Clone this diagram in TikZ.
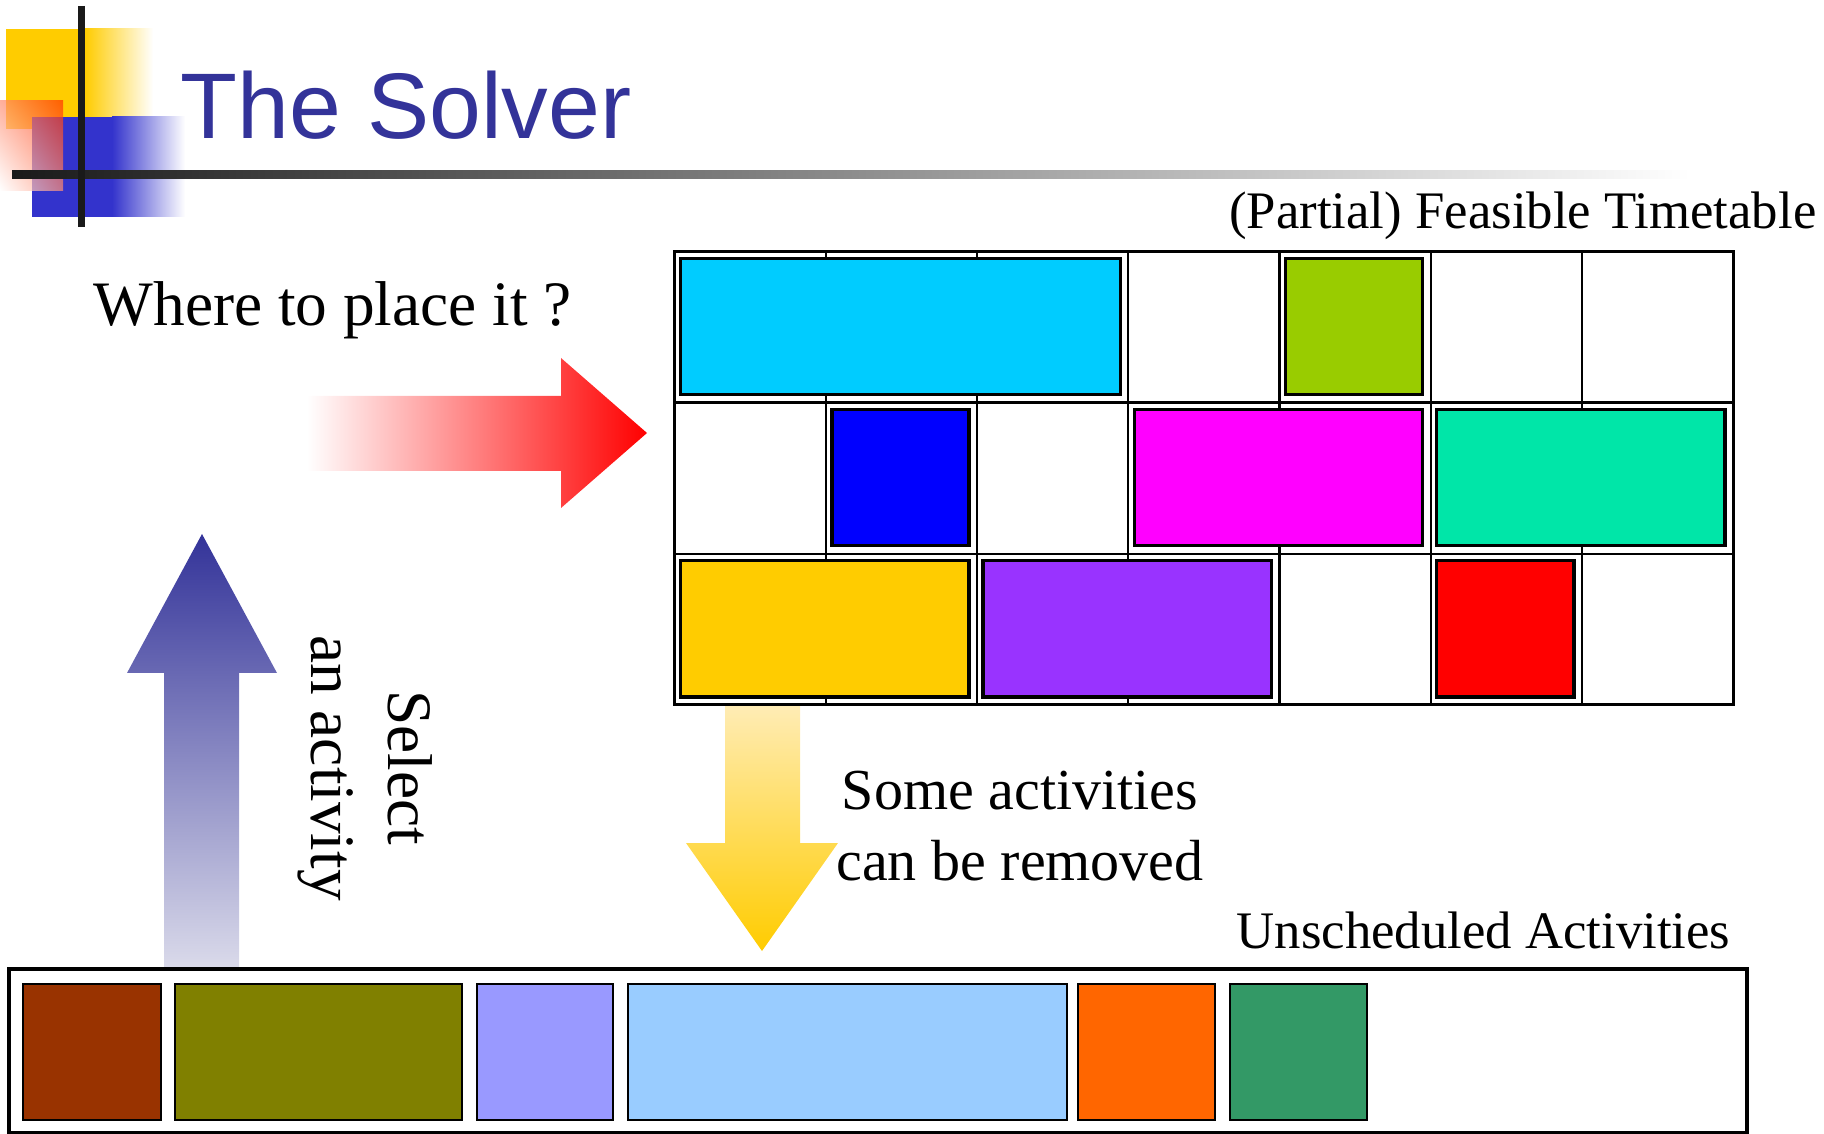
\documentclass[tikz,border=0pt]{standalone}
\usepackage{fontspec}
\setmainfont{Liberation Serif}
\newfontfamily\titlefont{Liberation Sans}
\usepackage{xcolor}
\usetikzlibrary{shadings}
\definecolor{logoyellow}{HTML}{FFCC00}
\definecolor{logoblue}{HTML}{3333CC}
\definecolor{logored}{HTML}{FF3300}
\definecolor{logoblack}{HTML}{1A1A1A}
\definecolor{titleblue}{HTML}{333399}
\definecolor{tcyan}{HTML}{00CCFF}
\definecolor{tlime}{HTML}{99CC00}
\definecolor{tblue}{HTML}{0000FF}
\definecolor{tmagenta}{HTML}{FF00FF}
\definecolor{tteal}{RGB}{0,230,168}
\definecolor{tgold}{HTML}{FFCC00}
\definecolor{tpurple}{HTML}{9933FF}
\definecolor{tred}{HTML}{FF0000}
\definecolor{ubrown}{HTML}{993300}
\definecolor{uolive}{HTML}{808000}
\definecolor{ulavender}{HTML}{9999FF}
\definecolor{usky}{HTML}{99CCFF}
\definecolor{uorange}{HTML}{FF6600}
\definecolor{ugreen}{HTML}{339966}
\definecolor{selblue}{HTML}{333399}
\definecolor{selpale}{RGB}{218,218,234}
\definecolor{rmpale}{RGB}{255,236,180}

\begin{document}
\begin{tikzpicture}[x=0.01cm,y=-0.01cm,line join=miter,
  activity/.style={draw=black,line width=1pt},
  slot/.style={draw=black,line width=0.6pt},
  label/.style={inner sep=0pt,text=black}]
  \useasboundingbox (0,0) rectangle (1824,1134);
  % logo
  \fill[logoyellow] (6,29) rectangle (85,129);
  \shade[left color=logoyellow,right color=white] (85,29) rectangle (153,129);
  \fill[logoblue] (32,117) rectangle (112,217);
  \shade[left color=logoblue,right color=white] (112,117) rectangle (185,217);
  \shade[fill opacity=0.7,upper right=logored,lower left=white,
    upper left=logored!55!white,lower right=logored!55!white] (0,101) rectangle (63,191);
  \shade[left color=logoblack,middle color=black!35,right color=white] (12,171) rectangle (1690,179);
  \draw[line width=2pt,logoblack] (81.5,6) -- (81.5,227);
  \node[label,anchor=base west,text=titleblue,font=\titlefont\fontsize{26.5}{30}\selectfont] (title) at (180,139) {The Solver};

  % arrows
  \shade[left color=white,right color=red] (307,396) -- (561,396) -- (561,358) -- (647,433)
    -- (561,508) -- (561,471) -- (307,471) -- cycle;
  \shade[top color=selblue,bottom color=selpale] (164,968) -- (164,673) -- (127,673) -- (202,534)
    -- (277,673) -- (239,673) -- (239,968) -- cycle;
  \shade[top color=rmpale,bottom color=tgold] (725,706) -- (800,706) -- (800,843) -- (838,843)
    -- (762,951) -- (686,843) -- (725,843) -- cycle;

  % timetable
  \begin{scope}[shift={(674.7,251.3)}]
    \foreach \i in {1,...,6}
      \draw[slot] (\i*151.2,0) -- (\i*151.2,453.6);
    \foreach \j in {1,2}
      \draw[slot] (0,\j*151.2) -- (1058.4,\j*151.2);
    \draw[slot,line width=0.85pt] (0,0) rectangle (1058.4,453.6);
    \foreach \a/\b/\r/\c in {0/3/0/tcyan,4/5/0/tlime,1/2/1/tblue,3/5/1/tmagenta,
        5/7/1/tteal,0/2/2/tgold,2/4/2/tpurple,5/6/2/tred}
      \filldraw[activity,fill=\c] (\a*151.2+6,\r*151.2+7) rectangle (\b*151.2-8,\r*151.2+143.2);
  \end{scope}

  % unscheduled
  \draw[line width=0.9pt] (9,969) rectangle (1747,1133);
  \foreach \a/\b/\c in {23/161/ubrown,175/462/uolive,477/613/ulavender,
      628/1067/usky,1078/1215/uorange,1230/1367/ugreen}
    \filldraw[activity,line width=0.8pt,fill=\c] (\a,984) rectangle (\b,1120);

  % texts
  \node[label,anchor=base east,font=\fontsize{15}{18}\selectfont] (timetable) at (1817,229) {(Partial) Feasible Timetable};
  \node[label,anchor=base west,font=\fontsize{18}{22}\selectfont] (question) at (93,326) {Where to place it ?};
  \node[label,align=center,font=\fontsize{16.5}{20}\selectfont] (removed) at (1020,826) {Some activities\\can be removed};
  \node[label,anchor=base east,font=\fontsize{15}{18}\selectfont] (unscheduled) at (1731,948) {Unscheduled Activities};
  \node[label,align=center,rotate=-90,font=\fontsize{18}{22}\selectfont] (select) at (365,768) {Select\\an activity};
\end{tikzpicture}
\end{document}
